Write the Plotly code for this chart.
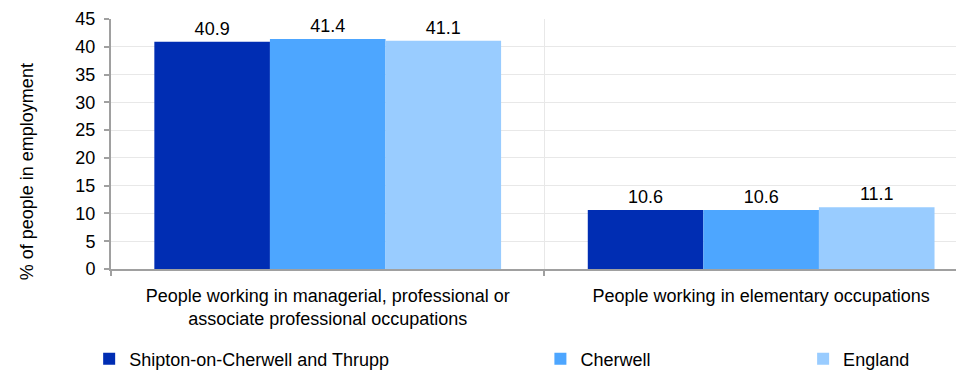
import plotly.graph_objects as go

categories = ["People working in managerial, professional or<br>associate professional occupations",
              "People working in elementary occupations"]
series_names = ["Shipton-on-Cherwell and Thrupp", "Cherwell", "England"]
shipton = [40.9, 10.6]
cherwell = [41.4, 10.6]
england = [41.1, 11.1]
colors = ["#002DB3", "#4DA6FF", "#99CCFF"]
y_ticks = [0, 5, 10, 15, 20, 25, 30, 35, 40, 45]
y_title = "% of people in employment"

FONT = "Liberation Sans, Arial, sans-serif"

fig = go.Figure()
legends = ["legend", "legend2", "legend3"]
for name, vals, col, lg in zip(series_names, [shipton, cherwell, england], colors, legends):
    fig.add_trace(go.Bar(
        x=categories, y=vals, name=name, marker=dict(color=col, line=dict(width=0)),
        text=[f"{v:.1f}" for v in vals], textposition="outside", cliponaxis=False,
        textfont=dict(size=18, color="#000000", family=FONT),
        legend=lg,
    ))

leg_common = dict(orientation="h", yanchor="middle", y=-0.36, xref="paper",
                  font=dict(size=18, color="#000000", family=FONT),
                  bgcolor="rgba(0,0,0,0)", itemwidth=30)
fig.update_layout(
    width=956, height=362,
    margin=dict(l=103, r=0, t=11, b=101, autoexpand=False),
    paper_bgcolor="white", plot_bgcolor="white",
    barmode="group", bargap=0.2, bargroupgap=0,
    font=dict(family=FONT, size=18, color="#000000"),
    showlegend=True,
    legend=dict(**leg_common, x=-0.0256),
    legend2=dict(**leg_common, x=0.5034),
    legend3=dict(**leg_common, x=0.8114),
    xaxis=dict(
        type="category", range=[-0.5, 1.468], tickson="boundaries",
        showgrid=True, gridcolor="#E8E8E8", gridwidth=1,
        showline=True, linecolor="#A0A0A0", linewidth=2,
        ticks="outside", ticklen=5, tickcolor="#A0A0A0", tickwidth=2,
        ticklabelstandoff=9,
        tickfont=dict(size=18, color="#000000", family=FONT),
        automargin=False,
    ),
    yaxis=dict(
        range=[0, 45], tickvals=y_ticks, ticktext=[str(t) for t in y_ticks],
        showgrid=True, gridcolor="#E8E8E8", gridwidth=1,
        showline=True, linecolor="#A0A0A0", linewidth=2,
        ticks="outside", ticklen=5, tickcolor="#A0A0A0", tickwidth=2,
        ticklabelstandoff=5,
        tickfont=dict(size=18, color="#000000", family=FONT),
        zeroline=False, automargin=False,
    ),
    annotations=[dict(
        text=y_title, textangle=-90, xref="paper", yref="paper",
        x=-0.0982, y=0.388, xanchor="center", yanchor="middle", showarrow=False,
        font=dict(size=18, color="#000000", family=FONT),
    )],
)

fig.write_html("out.html")
